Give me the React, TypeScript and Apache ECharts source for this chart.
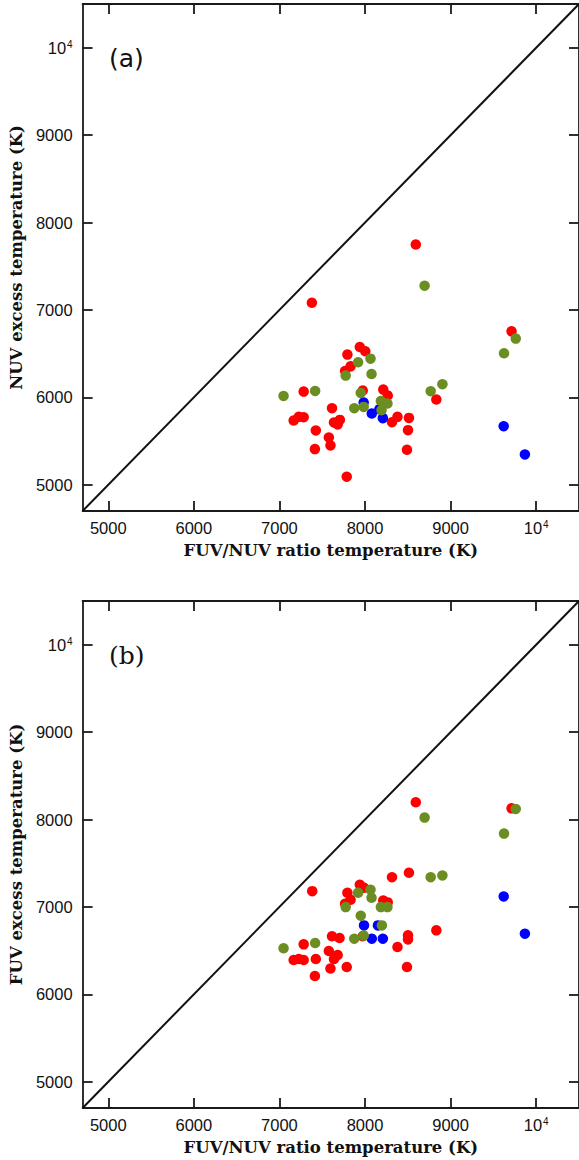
import React, { useEffect, useRef } from 'react';
import * as echarts from 'echarts';

const axisMin = 4700;
const axisMax = 10500;
const tickValues = [5000, 6000, 7000, 8000, 9000, 10000];
const xTitle = 'FUV/NUV ratio temperature (K)';
const yTitleA = 'NUV excess temperature (K)';
const yTitleB = 'FUV excess temperature (K)';
const panelLabels = ['(a)', '(b)'];
const diagonal = [[4700, 4700], [10500, 10500]];

// Panel (a): FUV/NUV ratio temperature vs NUV excess temperature
const redA = [
  [8593, 7748], [7379, 7082], [9712, 6755], [7939, 6576], [8003, 6527],
  [7794, 6489], [7831, 6355], [7767, 6302], [7283, 6066], [7973, 6078],
  [8213, 6089], [8265, 6021], [8833, 5975], [7614, 5876], [7166, 5735],
  [7226, 5777], [7283, 5773], [7706, 5742], [7637, 5713], [7680, 5690],
  [7425, 5621], [7577, 5541], [7596, 5450], [7414, 5408], [7786, 5092],
  [8379, 5777], [8315, 5716], [8513, 5765], [8502, 5625], [8490, 5400],
];
const greenA = [
  [8696, 7277], [9761, 6672], [9624, 6504], [8904, 6150], [8767, 6070],
  [7048, 6016], [7417, 6073], [7919, 6401], [8064, 6443], [8076, 6267],
  [7774, 6249], [7950, 6050], [7874, 5876], [7984, 5891], [8185, 5959],
  [8262, 5929], [8193, 5853],
];
const blueA = [
  [7984, 5941], [8079, 5815], [8167, 5864], [8208, 5762], [9620, 5670], [9868, 5347],
];

// Panel (b): FUV/NUV ratio temperature vs FUV excess temperature
const redB = [
  [8593, 8197], [9712, 8128], [8315, 7340], [8513, 7391], [7383, 7181],
  [7939, 7254], [7988, 7220], [7794, 7162], [7831, 7082], [7767, 7037],
  [8213, 7074], [8265, 7052], [7614, 6664], [7702, 6644], [7283, 6572],
  [7973, 6664], [8502, 6675], [8502, 6629], [8379, 6541], [8833, 6732],
  [7166, 6393], [7226, 6404], [7283, 6393], [7425, 6404], [7577, 6496],
  [7680, 6450], [7637, 6404], [7596, 6295], [7786, 6313], [7414, 6210],
  [8490, 6313],
];
const greenB = [
  [8696, 8022], [9761, 8121], [9624, 7839], [8904, 7360], [8767, 7340],
  [7048, 6527], [7417, 6587], [7919, 7162], [8064, 7197], [8076, 7105],
  [7774, 6998], [7950, 6900], [7874, 6637], [7984, 6672], [8185, 6998],
  [8262, 6998], [8197, 6789],
];
const blueB = [
  [7988, 6789], [8151, 6789], [8079, 6637], [8208, 6637], [9620, 7120], [9868, 6694],
];

const RED = '#ff0000';
const GREEN = '#6b8e23';
const BLUE = '#0000ff';
const AXIS_COLOR = '#1a1a1a';
const TITLE_FONT = 'DejaVu Serif';
const TICK_FONT = 'Liberation Sans';

const tickFormatter = (v: number) => (v === 10000 ? '{m|10}{s|4}' : '{m|' + v + '}');
const labelRich = {
  m: { fontSize: 16.5, fontFamily: TICK_FONT, color: '#111', verticalAlign: 'bottom' },
  s: { fontSize: 10, fontFamily: TICK_FONT, color: '#111', verticalAlign: 'bottom', padding: [0, 0, 7, 1] },
};

function makeXAxis(gridIndex: number, position: 'bottom' | 'top', showLabels: boolean) {
  return {
    type: 'value',
    gridIndex,
    position,
    min: axisMin,
    max: axisMax,
    name: showLabels ? xTitle : '',
    nameLocation: 'middle',
    nameGap: 31,
    nameTextStyle: { fontFamily: TITLE_FONT, fontSize: 16.5, fontWeight: 'bold', color: '#111', verticalAlign: 'top' },
    axisLine: { show: true, onZero: false, lineStyle: { color: AXIS_COLOR, width: 1.8 } },
    axisTick: { show: true, inside: true, length: 10, customValues: tickValues, lineStyle: { color: AXIS_COLOR, width: 1.8 } },
    axisLabel: {
      show: showLabels,
      customValues: tickValues,
      margin: 8,
      formatter: tickFormatter,
      rich: labelRich,
    },
    splitLine: { show: false },
  };
}

function makeYAxis(gridIndex: number, position: 'left' | 'right', name: string, showLabels: boolean) {
  return {
    type: 'value',
    gridIndex,
    position,
    min: axisMin,
    max: axisMax,
    name,
    nameLocation: 'middle',
    nameGap: 46,
    nameTextStyle: { fontFamily: TITLE_FONT, fontSize: 16.5, fontWeight: 'bold', color: '#111' },
    axisLine: { show: true, onZero: false, lineStyle: { color: AXIS_COLOR, width: 1.8 } },
    axisTick: { show: true, inside: true, length: 10, customValues: tickValues, lineStyle: { color: AXIS_COLOR, width: 1.8 } },
    axisLabel: {
      show: showLabels,
      customValues: tickValues,
      margin: 10,
      formatter: tickFormatter,
      rich: labelRich,
    },
    splitLine: { show: false },
  };
}

function panelSeries(idx: number, red: number[][], blue: number[][], green: number[][]) {
  const common = { xAxisIndex: idx * 2, yAxisIndex: idx * 2 };
  return [
    {
      type: 'line', ...common, data: diagonal, symbol: 'none', silent: true,
      lineStyle: { color: '#111', width: 2 }, z: 1,
    },
    { type: 'scatter', ...common, data: red, symbolSize: 10.5, itemStyle: { color: RED, opacity: 1 }, z: 2 },
    { type: 'scatter', ...common, data: blue, symbolSize: 10.5, itemStyle: { color: BLUE, opacity: 1 }, z: 3 },
    { type: 'scatter', ...common, data: green, symbolSize: 10.5, itemStyle: { color: GREEN, opacity: 1 }, z: 4 },
  ];
}

export default function App() {
  const ref = useRef<HTMLDivElement>(null);
  useEffect(() => {
    if (!ref.current) return;
    const chart = echarts.init(ref.current, null, { renderer: 'svg' });
    chart.setOption({
      animation: false,
      backgroundColor: '#ffffff',
      grid: [
        { left: 73, top: 4, width: 508, height: 507, containLabel: false },
        { left: 73, top: 601, width: 508, height: 507, containLabel: false },
      ],
      xAxis: [
        makeXAxis(0, 'bottom', true),
        makeXAxis(0, 'top', false),
        makeXAxis(1, 'bottom', true),
        makeXAxis(1, 'top', false),
      ],
      yAxis: [
        makeYAxis(0, 'left', yTitleA, true),
        makeYAxis(0, 'right', '', false),
        makeYAxis(1, 'left', yTitleB, true),
        makeYAxis(1, 'right', '', false),
      ],
      series: [
        ...panelSeries(0, redA, blueA, greenA),
        ...panelSeries(1, redB, blueB, greenB),
      ],
      graphic: [
        { type: 'text', left: 109, top: 46, style: { text: panelLabels[0], font: '25px "DejaVu Sans"', fill: '#111' } },
        { type: 'text', left: 109, top: 643, style: { text: panelLabels[1], font: '25px "DejaVu Serif"', fill: '#111' } },
      ],
    });
    return () => chart.dispose();
  }, []);
  return (
    <div
      ref={ref}
      style={{ position: 'fixed', left: 0, top: 0, width: 579, height: 1160, background: '#fff' }}
    />
  );
}
